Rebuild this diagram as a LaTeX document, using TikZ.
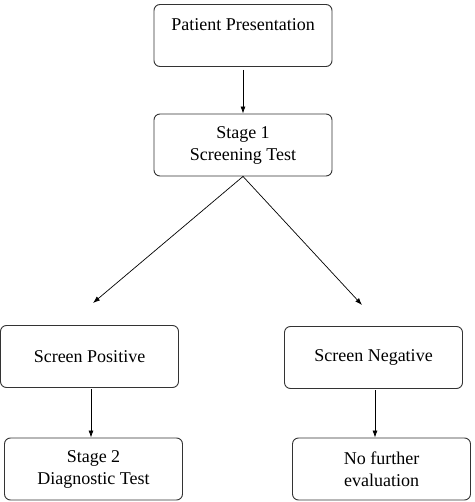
\documentclass[tikz,border=0pt]{standalone}
\usepackage{fontspec}
\setmainfont{Liberation Serif}
\usetikzlibrary{arrows.meta}
\begin{document}
\begin{tikzpicture}[x=1pt,y=-1pt,
  box/.style={draw=black!80, line width=0.9pt, rounded corners=6pt, minimum width=178pt, minimum height=62pt, align=center, font=\fontsize{18}{22}\selectfont, inner sep=0pt},
  arr/.style={-{Latex[length=7pt,width=5pt]}, line width=0.7pt, black}]
\useasboundingbox (0,0) rectangle (474,502);
\node[box] (pp) at (243,35.5) {Patient Presentation\\ \mbox{}};
\node[box] (s1) at (243,145) {Stage 1\\Screening Test};
\node[box] (sp) at (89.5,356.5) {Screen Positive};
\node[box] (sn) at (373.5,357.5) {Screen Negative};
\node[box] (s2) at (93.5,469) {Stage 2\\Diagnostic Test};
\node[box] (nf) at (381.5,469) {No further\\evaluation};
\coordinate (a1) at (243,70);
\coordinate (lt) at (93,303);
\coordinate (rt) at (362,305);
\coordinate (sp1) at (91,389);
\coordinate (sn1) at (375,390);
\draw[arr] (a1) -- (pp.south |- s1.north);
\draw[arr] (s1.south) -- (lt);
\draw[arr] (s1.south) -- (rt);
\draw[arr] (sp1) -- (sp1 |- s2.north);
\draw[arr] (sn1) -- (sn1 |- nf.north);
\end{tikzpicture}
\end{document}
